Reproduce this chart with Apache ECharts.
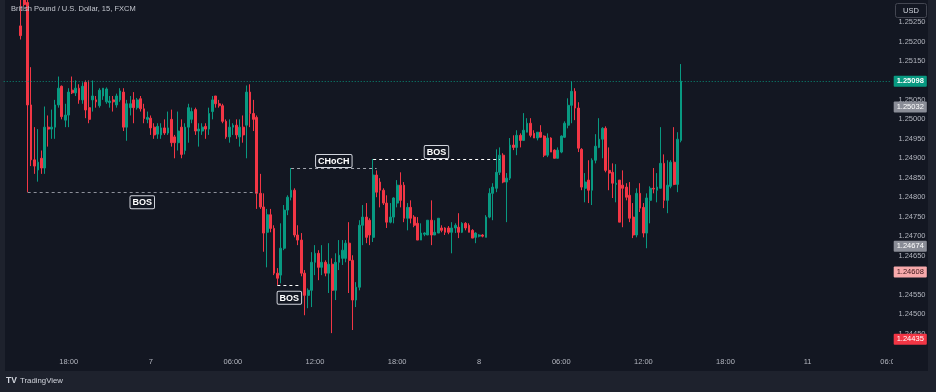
<!DOCTYPE html>
<html><head><meta charset="utf-8">
<script src="https://cdn.jsdelivr.net/npm/echarts@6/dist/echarts.min.js"></script>
<style>html,body{margin:0;padding:0;background:#1e222d;}#c{width:936px;height:392px;}</style>
</head><body><div id="c"></div>
<script>
// ---- data ----
const tickLabels = ['18:00','7','06:00','12:00','18:00','8','06:00','12:00','18:00','11','06:00'];
const tickBars = [14,38,62,86,110,134,158,182,206,230,254];

const opens = [
1.25240,1.25310,1.25300,1.25037,1.24896,1.24870,1.24900,1.24875,1.24980,1.24975,
1.24980,1.25037,1.25085,1.24998,1.25011,1.25075,1.25068,1.25080,1.25050,1.25095,
1.25030,1.25050,1.25050,1.25035,1.25060,1.25045,1.25043,1.25050,1.25037,1.25050,
1.25070,1.24980,1.25030,1.25050,1.25030,1.25053,1.25027,1.25000,1.25003,1.24980,
1.24962,1.24960,1.24978,1.24965,1.25000,1.24955,1.24940,1.24980,1.24920,1.24980,
1.25000,1.25025,1.24970,1.24970,1.24982,1.24975,1.25020,1.25060,1.25040,1.25035,
1.24995,1.24955,1.24980,1.24985,1.24955,1.24980,1.24985,1.25070,1.25015,1.25005,
1.24810,1.24775,1.24710,1.24755,1.24720,1.24605,1.24600,1.24669,1.24767,1.24800,
1.24818,1.24703,1.24690,1.24605,1.24548,1.24561,1.24633,1.24656,1.24620,1.24633,
1.24605,1.24628,1.24561,1.24633,1.24643,1.24643,1.24682,1.24638,1.24536,1.24569,
1.24728,1.24749,1.24741,1.24697,1.24857,1.24839,1.24818,1.24785,1.24736,1.24749,
1.24785,1.24831,1.24831,1.24746,1.24774,1.24749,1.24733,1.24690,1.24705,1.24703,
1.24741,1.24703,1.24708,1.24721,1.24721,1.24721,1.24710,1.24721,1.24723,1.24710,
1.24733,1.24728,1.24715,1.24697,1.24700,1.24703,1.24697,1.24749,1.24810,1.24823,
1.24864,1.24908,1.24839,1.24849,1.24934,1.24928,1.24959,1.24946,1.24967,1.24990,
1.24964,1.24952,1.24967,1.24957,1.24908,1.24952,1.24921,1.24900,1.24916,1.24954,
1.24985,1.25036,1.25072,1.25029,1.24923,1.24823,1.24844,1.24818,1.24895,1.24928,
1.24949,1.24977,1.24869,1.24864,1.24833,1.24844,1.24831,1.24826,1.24805,1.24749,
1.24703,1.24810,1.24774,1.24708,1.24792,1.24823,1.24818,1.24823,1.24887,1.24792,
1.24828,1.24890,1.24833,1.24946];
const highs = [
1.25310,1.25320,1.25310,1.25134,1.24980,1.24975,1.24920,1.25033,1.25010,1.25025,
1.25050,1.25110,1.25087,1.25040,1.25080,1.25110,1.25100,1.25090,1.25095,1.25100,
1.25100,1.25100,1.25060,1.25080,1.25080,1.25082,1.25060,1.25060,1.25066,1.25080,
1.25080,1.25050,1.25060,1.25070,1.25055,1.25060,1.25040,1.25020,1.25010,1.24990,
1.24990,1.24990,1.25000,1.25020,1.25025,1.24960,1.25020,1.25000,1.24990,1.25040,
1.25030,1.25030,1.24990,1.24990,1.24990,1.25030,1.25060,1.25060,1.25050,1.25040,
1.25000,1.25000,1.24990,1.25000,1.25000,1.25010,1.25087,1.25090,1.25050,1.25010,
1.24860,1.24810,1.24770,1.24770,1.24728,1.24618,1.24733,1.24780,1.24805,1.24875,
1.24823,1.24728,1.24708,1.24613,1.24566,1.24659,1.24677,1.24664,1.24677,1.24638,
1.24682,1.24643,1.24656,1.24690,1.24690,1.24690,1.24736,1.24651,1.24582,1.24741,
1.24780,1.24785,1.24746,1.24898,1.24869,1.24849,1.24823,1.24805,1.24785,1.24800,
1.24844,1.24864,1.24839,1.24785,1.24792,1.24754,1.24749,1.24733,1.24710,1.24741,
1.24792,1.24741,1.24746,1.24728,1.24723,1.24726,1.24736,1.24733,1.24759,1.24736,
1.24736,1.24733,1.24718,1.24710,1.24705,1.24705,1.24754,1.24823,1.24836,1.24923,
1.24928,1.24913,1.24862,1.24952,1.24959,1.24972,1.24964,1.25016,1.25003,1.25003,
1.24972,1.24967,1.24985,1.24959,1.24964,1.24954,1.24923,1.24928,1.24959,1.24995,
1.25054,1.25098,1.25080,1.25044,1.24926,1.24862,1.24895,1.24900,1.24962,1.25003,
1.24980,1.24982,1.24928,1.24887,1.24885,1.24844,1.24869,1.24836,1.24839,1.24785,
1.24823,1.24836,1.24785,1.24810,1.24828,1.24875,1.24862,1.24980,1.24910,1.24895,
1.24895,1.24980,1.24967,1.25142];
const lows = [
1.25205,1.25290,1.24813,1.24880,1.24860,1.24840,1.24860,1.24860,1.24930,1.24950,
1.24950,1.25030,1.25000,1.24980,1.24980,1.25065,1.25060,1.25040,1.25040,1.25003,
1.24990,1.25020,1.25030,1.25030,1.25050,1.25040,1.25030,1.25020,1.25030,1.25045,
1.24970,1.24945,1.25010,1.24990,1.25025,1.25020,1.24990,1.24990,1.24960,1.24950,
1.24950,1.24950,1.24960,1.24960,1.24930,1.24900,1.24920,1.24900,1.24910,1.24940,
1.24990,1.24960,1.24930,1.24960,1.24950,1.24960,1.25000,1.25030,1.25030,1.24990,
1.24950,1.24940,1.24960,1.24950,1.24930,1.24940,1.24900,1.24980,1.24970,1.24770,
1.24770,1.24660,1.24620,1.24710,1.24600,1.24574,1.24579,1.24664,1.24754,1.24792,
1.24697,1.24677,1.24597,1.24497,1.24515,1.24518,1.24600,1.24587,1.24600,1.24597,
1.24554,1.24451,1.24536,1.24613,1.24626,1.24633,1.24554,1.24459,1.24518,1.24561,
1.24677,1.24682,1.24677,1.24685,1.24800,1.24774,1.24780,1.24721,1.24733,1.24733,
1.24774,1.24774,1.24736,1.24715,1.24733,1.24723,1.24690,1.24690,1.24700,1.24703,
1.24677,1.24703,1.24708,1.24710,1.24703,1.24705,1.24656,1.24708,1.24695,1.24708,
1.24715,1.24710,1.24695,1.24682,1.24697,1.24697,1.24697,1.24746,1.24741,1.24813,
1.24857,1.24836,1.24736,1.24844,1.24921,1.24908,1.24928,1.24946,1.24967,1.24954,
1.24952,1.24946,1.24954,1.24903,1.24903,1.24916,1.24900,1.24900,1.24913,1.24952,
1.24977,1.24990,1.24998,1.24916,1.24818,1.24787,1.24785,1.24780,1.24887,1.24926,
1.24900,1.24864,1.24818,1.24798,1.24787,1.24736,1.24723,1.24792,1.24736,1.24695,
1.24697,1.24762,1.24697,1.24669,1.24733,1.24810,1.24787,1.24823,1.24772,1.24759,
1.24823,1.24831,1.24813,1.24941];
const closes = [
1.25215,1.25295,1.25037,1.24896,1.24880,1.24890,1.24875,1.24980,1.24975,1.24980,
1.25037,1.25080,1.25007,1.25011,1.25070,1.25068,1.25080,1.25050,1.25085,1.25024,
1.25000,1.25060,1.25045,1.25075,1.25080,1.25078,1.25047,1.25045,1.25060,1.25073,
1.24980,1.25040,1.25040,1.25030,1.25050,1.25027,1.25002,1.25005,1.24978,1.24960,
1.24982,1.24978,1.24965,1.24978,1.24940,1.24940,1.24970,1.24910,1.24980,1.25030,
1.25020,1.24970,1.24975,1.24980,1.24975,1.25015,1.25050,1.25040,1.25035,1.24995,
1.24955,1.24980,1.24985,1.24960,1.24980,1.24960,1.25070,1.25015,1.25000,1.24810,
1.24775,1.24708,1.24755,1.24720,1.24605,1.24592,1.24669,1.24767,1.24800,1.24818,
1.24703,1.24690,1.24605,1.24548,1.24561,1.24633,1.24656,1.24620,1.24633,1.24605,
1.24628,1.24561,1.24633,1.24651,1.24664,1.24682,1.24638,1.24536,1.24569,1.24728,
1.24749,1.24697,1.24703,1.24857,1.24813,1.24818,1.24785,1.24736,1.24749,1.24798,
1.24831,1.24792,1.24746,1.24774,1.24746,1.24728,1.24690,1.24708,1.24708,1.24741,
1.24703,1.24710,1.24746,1.24715,1.24710,1.24710,1.24721,1.24728,1.24710,1.24733,
1.24721,1.24710,1.24695,1.24708,1.24703,1.24700,1.24749,1.24810,1.24826,1.24864,
1.24908,1.24839,1.24849,1.24934,1.24928,1.24959,1.24946,1.24972,1.24990,1.24959,
1.24952,1.24967,1.24954,1.24908,1.24952,1.24916,1.24900,1.24921,1.24957,1.24990,
1.25036,1.25072,1.25029,1.24926,1.24826,1.24839,1.24818,1.24895,1.24931,1.24949,
1.24977,1.24869,1.24862,1.24836,1.24836,1.24736,1.24823,1.24800,1.24746,1.24703,
1.24810,1.24772,1.24708,1.24798,1.24823,1.24821,1.24826,1.24887,1.24792,1.24831,
1.24890,1.24833,1.24949,1.25098];

// price tags on the right scale
const tagValues = [1.25098, 1.25032, 1.24674, 1.24608, 1.24435];
// market-structure levels
const structNames = ['BOS', 'CHoCH', 'BOS', 'BOS'];
const structLevels = [1.24813, 1.24875, 1.24898, 1.24575];
const structFrom = [2, 79, 103, 75];
const structTo = [69, 104, 140, 82];
const title = 'British Pound / U.S. Dollar, 15, FXCM';

// ---- styles ----
const PANE = '#131722', OUTER = '#1e222d';
const UP = '#089981', DOWN = '#f23645';
const FONT = "'Liberation Sans', Arial, sans-serif";
const tagBg = ['#089981', '#8a8d97', '#8a8d97', '#f7a9ab', '#f23645'];
const tagFg = ['#ffffff', '#ffffff', '#ffffff', '#3a1518', '#ffffff'];
const structColor = ['#8d909a', '#a3a6af', '#ffffff', '#ffffff'];
const structPos = ['insideMiddleBottom', 'insideMiddleTop', 'insideMiddleTop', 'insideMiddleBottom'];
const structDist = [4, 1, 1, 7];

const OFF = 5, NSLOT = 260;
const cats = Array.from({length: NSLOT}, () => '');
tickBars.forEach((b, k) => { cats[b + OFF] = tickLabels[k]; });
const candles = opens.map((o, i) => [i + OFF, o, closes[i], lows[i], highs[i]]);

const tagLines = tagValues.map((v, k) => [
  {coord: [0, v],
   lineStyle: k === 0 ? {color: UP, type: [1, 2], width: 1, opacity: 0.9}
                      : {color: 'rgba(0,0,0,0)', width: 1, opacity: 1},
   label: {show: true, position: 'end', distance: 4, formatter: v.toFixed(5),
     backgroundColor: tagBg[k], color: tagFg[k], padding: [2, 3, 1, 3], opacity: 1,
     fontSize: 7.5, fontFamily: FONT, fontWeight: k === 0 ? 'bold' : 'normal', borderRadius: 1}},
  {coord: [NSLOT - 1, v]}
]);
const structLines = structNames.map((name, k) => [
  {coord: [structFrom[k] + OFF, structLevels[k]],
   lineStyle: {color: structColor[k], type: [3, 3], width: 1, opacity: 1},
   label: {show: true, formatter: name, position: structPos[k], distance: structDist[k],
     color: '#ffffff', fontWeight: 'bold', fontSize: 9, fontFamily: FONT,
     backgroundColor: PANE, borderColor: '#d1d4dc', borderWidth: 1,
     padding: [2, 2, 1, 2], borderRadius: 1}},
  {coord: [structTo[k] + OFF, structLevels[k]]}
]);

const chart = echarts.init(document.getElementById('c'), null, {renderer: 'canvas', width: 936, height: 392});
chart.setOption({
  animation: false,
  backgroundColor: OUTER,
  textStyle: {fontFamily: FONT},
  grid: {left: 2, top: 2.53, width: NSLOT * 3.4208, height: 350.47, containLabel: false},
  xAxis: {
    type: 'category', data: cats, boundaryGap: true,
    axisLine: {show: false}, axisTick: {show: false}, splitLine: {show: false},
    axisLabel: {interval: 0, color: '#b2b5be', fontSize: 7.5, fontFamily: FONT, margin: 5}
  },
  yAxis: {
    type: 'value', position: 'right', min: 1.2440, max: 1.2530, interval: 0.0005, scale: true,
    axisLine: {show: false}, axisTick: {show: false}, splitLine: {show: false},
    axisLabel: {color: '#b2b5be', fontSize: 7.5, fontFamily: FONT, margin: 7,
      showMinLabel: false, showMaxLabel: false, formatter: v => v.toFixed(5)}
  },
  graphic: [
    {type: 'rect', z: -10, shape: {x: 5, y: 0, width: 923, height: 371}, style: {fill: PANE}},
    {type: 'rect', z: 100, shape: {x: 893, y: 354, width: 35, height: 16}, style: {fill: PANE}},
    {type: 'text', z: 100, x: 11, y: 5, style: {text: title, fill: '#c3c6ce', font: '7.5px ' + FONT}},
    {type: 'rect', z: 100, shape: {x: 895.5, y: 3.5, width: 31, height: 14, r: 2}, style: {fill: PANE, stroke: '#434651', lineWidth: 1}},
    {type: 'text', z: 101, x: 911, y: 10.5, style: {text: 'USD', fill: '#d1d4dc', font: '7.5px ' + FONT, align: 'center', verticalAlign: 'middle'}},
    {type: 'text', z: 100, x: 6, y: 381, style: {text: 'TV', fill: '#d1d4dc', font: 'bold 8.5px ' + FONT, verticalAlign: 'middle'}},
    {type: 'text', z: 100, x: 20, y: 381, style: {text: 'TradingView', fill: '#d1d4dc', font: '7.8px ' + FONT, verticalAlign: 'middle'}}
  ],
  series: [{
    type: 'candlestick', clip: false, barWidth: 2.3,
    encode: {x: 0, y: [1, 2, 3, 4]},
    data: candles,
    itemStyle: {color: UP, color0: DOWN, borderColor: UP, borderColor0: DOWN, borderWidth: 1},
    markLine: {silent: true, animation: false, symbol: ['none', 'none'],
      data: tagLines.concat(structLines)}
  }]
});
</script></body></html>
